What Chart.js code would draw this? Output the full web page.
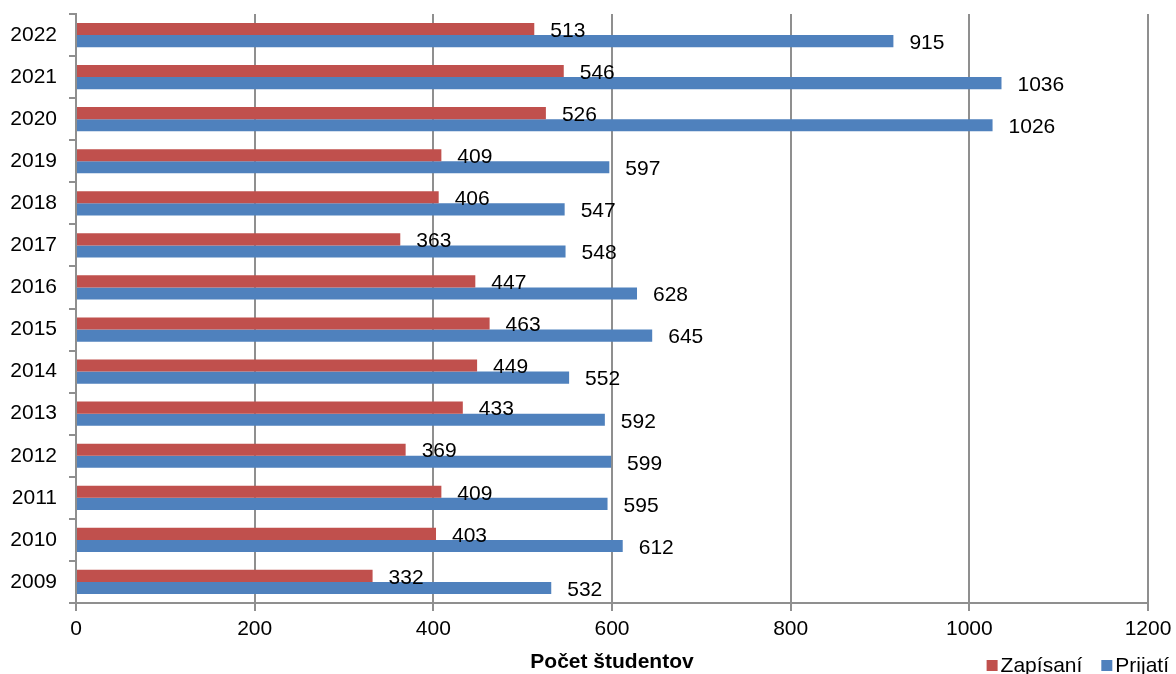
<!DOCTYPE html>
<html>
<head>
<meta charset="utf-8">
<script src="https://cdn.jsdelivr.net/npm/chart.js@4/dist/chart.umd.min.js"></script>
<style>
html,body{margin:0;padding:0;background:#fff;}
#wrap{width:1176px;height:674px;position:relative;}
</style>
</head>
<body>
<div id="wrap"><canvas id="c" width="1176" height="674"></canvas></div>
<script>
const years = ['2022','2021','2020','2019','2018','2017','2016','2015','2014','2013','2012','2011','2010','2009'];
const zapisani = [513,546,526,409,406,363,447,463,449,433,369,409,403,332];
const prijati = [915,1036,1026,597,547,548,628,645,552,592,599,595,612,532];
const xTicks = [0,200,400,600,800,1000,1200];
const seriesNames = ['Zapísaní','Prijatí'];
const axisTitle = 'Počet študentov';

const FONT = '"Liberation Sans", Arial, sans-serif';
const RED = '#C0504D', BLUE = '#4F81BD', GRID = '#8f8f8f';

const valueLabels = {
  id: 'valueLabels',
  afterDatasetsDraw(chart) {
    const ctx = chart.ctx;
    ctx.save();
    ctx.font = '21px ' + FONT;
    ctx.fillStyle = '#000';
    ctx.textAlign = 'left';
    ctx.textBaseline = 'middle';
    chart.data.datasets.forEach((ds, di) => {
      const meta = chart.getDatasetMeta(di);
      meta.data.forEach((bar, i) => {
        ctx.fillText(String(ds.data[i]), bar.x + 16, bar.y + 2);
      });
    });
    ctx.restore();
  }
};

const bottomLegend = {
  id: 'bottomLegend',
  afterDraw(chart) {
    const ctx = chart.ctx;
    ctx.save();
    ctx.font = '21px ' + FONT;
    ctx.textBaseline = 'middle';
    ctx.textAlign = 'left';
    const box = 11, gapBox = 3, gapItem = 19;
    const items = chart.data.datasets.map(d => ({text: d.label, color: d.backgroundColor}));
    let x = chart.width - 7;
    const y = 666;
    for (let i = items.length - 1; i >= 0; i--) {
      const w = ctx.measureText(items[i].text).width;
      x -= w;
      ctx.fillStyle = '#000';
      ctx.fillText(items[i].text, x, y);
      x -= gapBox + box;
      ctx.fillStyle = items[i].color;
      ctx.fillRect(x, y - 6, box, box);
      x -= gapItem;
    }
    ctx.restore();
  }
};

new Chart(document.getElementById('c'), {
  type: 'bar',
  data: {
    labels: years,
    datasets: [
      {label: seriesNames[0], data: zapisani, backgroundColor: RED, borderWidth: 0},
      {label: seriesNames[1], data: prijati, backgroundColor: BLUE, borderWidth: 0}
    ]
  },
  options: {
    indexAxis: 'y',
    responsive: false,
    animation: false,
    devicePixelRatio: 1,
    layout: {padding: {top: 14, right: 28, left: 0, bottom: 0}},
    categoryPercentage: 0.575,
    barPercentage: 1.0,
    plugins: {
      legend: {display: false},
      tooltip: {enabled: false}
    },
    scales: {
      x: {
        min: 0, max: 1200,
        afterBuildTicks: s => { s.ticks = xTicks.map(v => ({value: v})); },
        afterFit: s => { s.height = 71; s.paddingLeft = 0; s.paddingRight = 0; },
        grid: {color: GRID, lineWidth: 2, tickLength: 8, drawTicks: true},
        border: {color: GRID, width: 2},
        ticks: {color: '#000', font: {family: FONT, size: 21}, padding: 6, maxRotation: 0,
                callback: v => String(v)},
        title: {display: true, text: axisTitle, color: '#000', font: {family: FONT, size: 21, weight: 'bold'}, padding: {top: 0, bottom: -1}}
      },
      y: {
        afterFit: s => { s.width = 76; s.paddingTop = 0; s.paddingBottom = 0; },
        grid: {drawOnChartArea: false, drawTicks: true, tickLength: 7, color: GRID, lineWidth: 2},
        border: {color: GRID, width: 2},
        ticks: {color: '#000', font: {family: FONT, size: 21}, padding: 12}
      }
    }
  },
  plugins: [valueLabels, bottomLegend]
});
</script>
</body>
</html>
